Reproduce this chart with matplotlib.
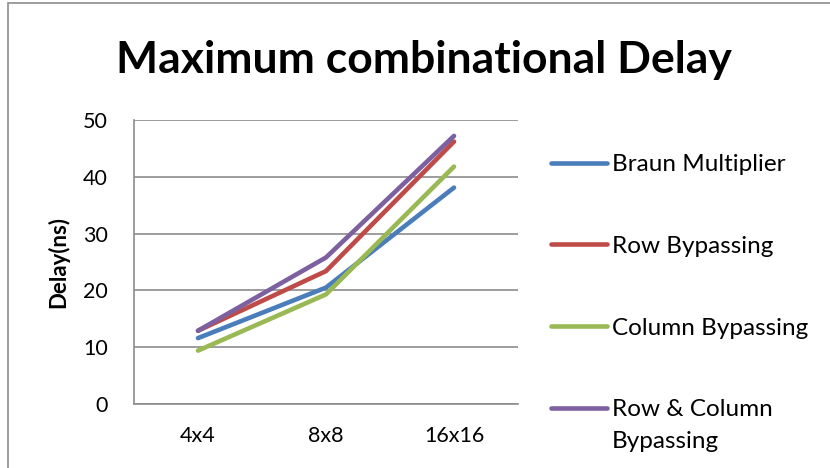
import matplotlib
matplotlib.use("Agg")
import matplotlib.pyplot as plt
from matplotlib.patches import Rectangle

categories = ["4x4", "8x8", "16x16"]
braun = [11.6, 20.5, 38.1]
row_bypass = [12.9, 23.4, 46.2]
col_bypass = [9.4, 19.3, 41.8]
row_col_bypass = [12.9, 25.8, 47.2]
series_names = ["Braun Multiplier", "Row Bypassing", "Column Bypassing", "Row & Column"]
series_extra = "Bypassing"
colors = ["#4A7EBB", "#BE4B48", "#98B954", "#7D60A0"]

plt.rcParams['font.family'] = ['Lato', 'DejaVu Sans']

W, H = 830, 468
fig = plt.figure(figsize=(W / 100, H / 100), dpi=100)
fig.patches.append(Rectangle((8 / W, -0.1), 1.2, 1 - 3 / H + 0.1, transform=fig.transFigure,
                             fill=False, edgecolor="#8C8C8C", linewidth=1.2))

ax = fig.add_axes([134 / W, 1 - 404 / H, (518 - 134) / W, (404 - 120) / H])
x = list(range(len(categories)))
for vals, c, name in zip([braun, row_bypass, col_bypass, row_col_bypass], colors, series_names):
    ax.plot(x, vals, color=c, linewidth=3.3, solid_capstyle="round", label=name)

ax.set_xlim(-0.5, 2.5)
ax.set_ylim(0, 50)
ax.set_yticks([0, 10, 20, 30, 40, 50])
ax.set_xticks(x)
ax.set_xticklabels(categories)
ax.yaxis.grid(True, color="#8C8C8C", linewidth=1.2)
ax.set_axisbelow(True)
for s in ["top", "right"]:
    ax.spines[s].set_visible(False)
for s in ["left", "bottom"]:
    ax.spines[s].set_color("#8C8C8C")
    ax.spines[s].set_linewidth(1.2)
ax.tick_params(axis="both", length=0, labelsize=15.5, colors="black")
ax.tick_params(axis="y", pad=19)
ax.tick_params(axis="x", pad=16)

fig.text(58 / W, 1 - 262 / H, "Delay(ns)", rotation=90, ha="center", va="center",
         fontsize=16, fontweight="bold")
fig.text(424 / W, 1 - 60 / H, "Maximum combinational Delay", ha="center", va="center",
         fontsize=32, fontweight="bold")

leg = ax.legend(loc="upper left", bbox_to_anchor=(551 / W, 1 - 154 / H),
                bbox_transform=fig.transFigure, frameon=False, fontsize=17.5,
                handlelength=2.3, handletextpad=0.2, labelspacing=2.5, borderpad=0,
                borderaxespad=0)
for line in leg.get_lines():
    line.set_linewidth(3.3)

fig.canvas.draw()
t = leg.get_texts()[-1]
bb = t.get_window_extent()
fig.text(bb.x0 / W, (bb.y0 - 32) / H, series_extra, fontsize=17.5, ha="left",
         va="bottom", transform=fig.transFigure)

fig.savefig("out.png", dpi=100)
